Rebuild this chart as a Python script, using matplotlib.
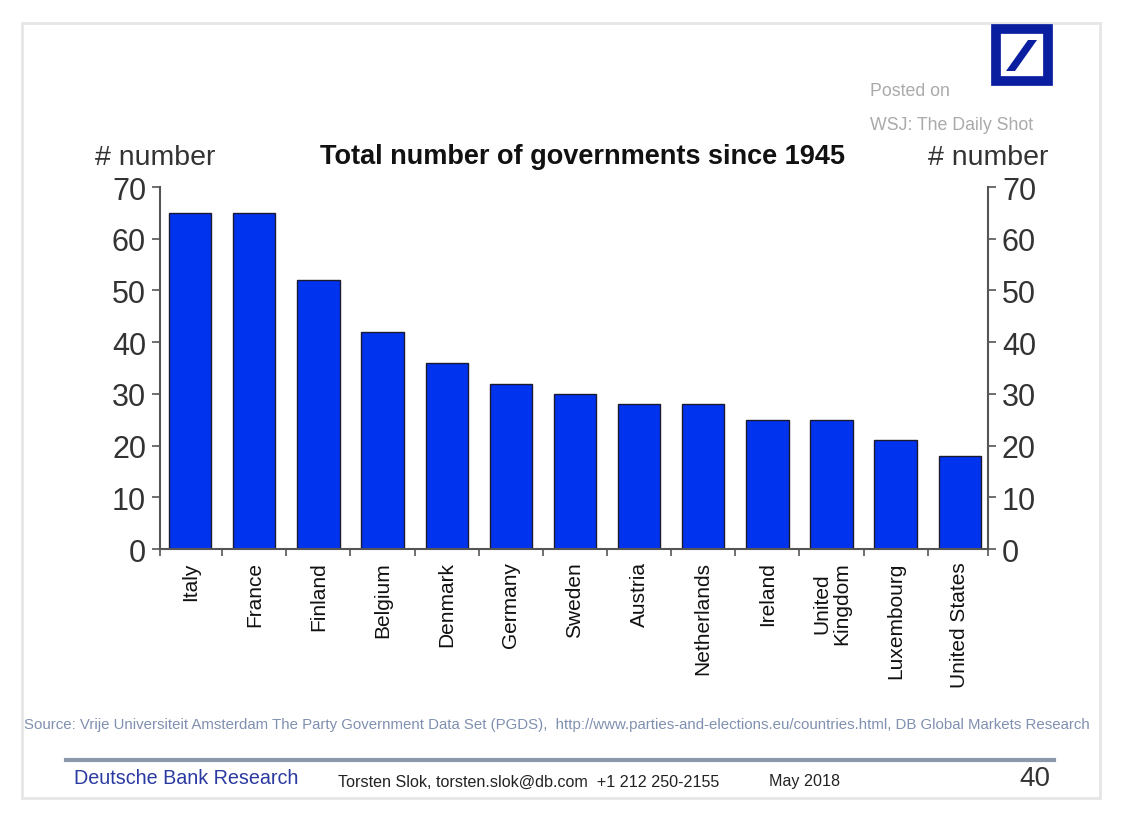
import matplotlib
matplotlib.use("Agg")
import matplotlib.pyplot as plt
from matplotlib.patches import Rectangle, Polygon
from matplotlib.lines import Line2D

countries = ["Italy", "France", "Finland", "Belgium", "Denmark", "Germany",
             "Sweden", "Austria", "Netherlands", "Ireland", "United\nKingdom",
             "Luxembourg", "United States"]
governments = [65, 65, 52, 42, 36, 32, 30, 28, 28, 25, 25, 21, 18]
yticks = [0, 10, 20, 30, 40, 50, 60, 70]

W, H = 1138, 820
plt.rcParams["font.family"] = ["Liberation Sans", "DejaVu Sans"]

fig = plt.figure(figsize=(W / 100, H / 100), dpi=100)


def fx(px):
    return px / W


def fy(py):
    return 1 - py / H


# page frame
fig.patches.append(Rectangle((fx(22), fy(799)), fx(1100) - fx(22), fy(24) - fy(799),
                             transform=fig.transFigure, fill=False,
                             edgecolor="#e6e6e6", lw=2))

ax = fig.add_axes([fx(160), fy(550), fx(988) - fx(160), fy(188) - fy(550)])
x = range(len(countries))
ax.bar(x, governments, width=0.66, color="#0033ee", edgecolor="#1a1a33", lw=1.0)
ax.set_xlim(-0.47, len(countries) - 0.56)
ax.set_ylim(0, 70)

ax.spines["top"].set_visible(False)
for s in ["left", "right", "bottom"]:
    ax.spines[s].set_color("#555555")
    ax.spines[s].set_linewidth(1.5)

ax.set_yticks(yticks)
ax.tick_params(axis="y", which="both", direction="out", length=6, width=1.2,
               color="#555555", labelsize=22, labelcolor="#333333",
               left=True, right=True, labelleft=True, labelright=True, pad=4)
ax.set_xticks([i + 0.5 for i in range(len(countries) - 1)] + [-0.47, len(countries) - 0.56])
ax.set_xticklabels([])
ax.tick_params(axis="x", direction="out", length=5, width=1.2, color="#555555")
for i, c in enumerate(countries):
    ax.text(i, -2.4, c, rotation=90, ha="center", va="top", fontsize=15,
            color="#111111", linespacing=1.05)

fig.text(fx(95), fy(158), "# number", fontsize=20.5, color="#333333", va="center")
fig.text(fx(928), fy(158), "# number", fontsize=20.5, color="#333333", va="center")
fig.text(fx(583), fy(157), "Total number of governments since 1945",
         fontsize=19.5, fontweight="bold", color="#111111", ha="center", va="center")

fig.text(fx(870), fy(92), "Posted on", fontsize=12.8, color="#aaaaaa", va="center")
fig.text(fx(870), fy(126), "WSJ: The Daily Shot", fontsize=12.8, color="#aaaaaa", va="center")

# logo
fig.patches.append(Rectangle((fx(996), fy(82)), fx(1048) - fx(996), fy(30) - fy(82),
                             transform=fig.transFigure, fill=False,
                             edgecolor="#0a1fa0", lw=7))
fig.patches.append(Polygon([(fx(1006), fy(72)), (fx(1015), fy(72)),
                            (fx(1037), fy(41)), (fx(1028), fy(41))],
                           closed=True, transform=fig.transFigure,
                           facecolor="#0a1fa0", edgecolor="none"))

fig.text(fx(24), fy(725),
         "Source: Vrije Universiteit Amsterdam The Party Government Data Set (PGDS),  "
         "http://www.parties-and-elections.eu/countries.html, DB Global Markets Research",
         fontsize=10.8, color="#8090b0", va="center")

fig.add_artist(Line2D([fx(66), fx(1054)], [fy(761), fy(761)],
                      transform=fig.transFigure, color="#8a9aab", lw=3))
fig.text(fx(74), fy(779), "Deutsche Bank Research", fontsize=14.2, color="#2a3aa0", va="center")
fig.text(fx(338), fy(782), "Torsten Slok, torsten.slok@db.com  +1 212 250-2155",
         fontsize=11.6, color="#222222", va="center")
fig.text(fx(769), fy(782), "May 2018", fontsize=11.6, color="#222222", va="center")
fig.text(fx(1050), fy(779), "40", fontsize=20, color="#333333", va="center", ha="right")

fig.savefig("out.png", dpi=100, facecolor="white")
